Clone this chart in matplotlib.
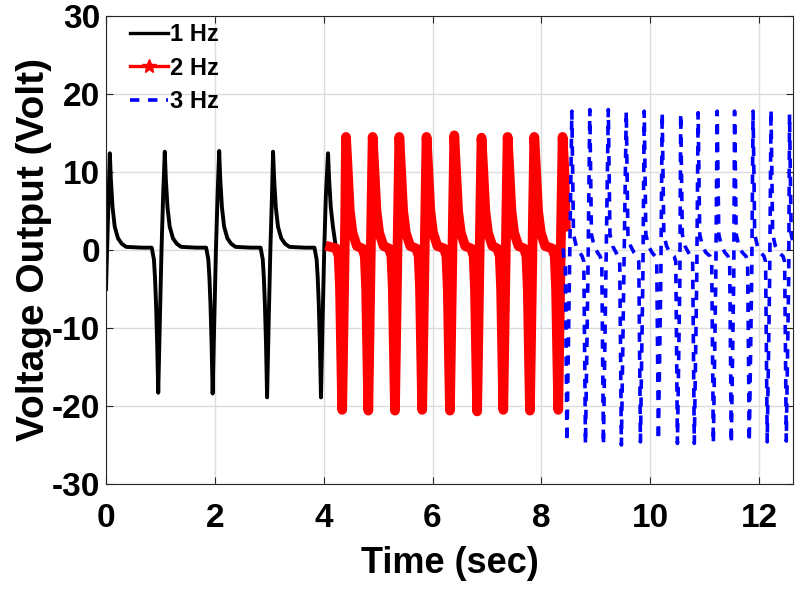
import matplotlib

matplotlib.use("Agg")
import matplotlib.pyplot as plt
from matplotlib.lines import Line2D

plt.rcParams["font.family"] = ["Liberation Sans", "DejaVu Sans"]
plt.rcParams["font.weight"] = "bold"
plt.rcParams["axes.unicode_minus"] = False

# --- 1 Hz (black): spike times / voltages ---
black_start = (0.0, -5.0)
black_trough_t = [0.96, 1.96, 2.96, 3.95]
black_trough_v = [-18.3, -18.4, -18.9, -18.9]
black_peak_t = [0.07, 1.08, 2.08, 3.07, 4.08]
black_peak_v = [12.4, 12.6, 12.7, 12.6, 12.4]
black_end = (4.21, 1.0)
# shape of one cycle around the spikes (offset in s, volt)
black_pre_dt = [-0.30, -0.12, -0.08, -0.06, -0.04, -0.02]
black_pre_v = [0.3, 0.3, -1.2, -3.5, -7.0, -12.0]
black_rise_dt = [0.03, 0.06, 0.09]
black_rise_v = [-9.0, 0.0, 7.0]
black_decay_dt = [0.02, 0.05, 0.09, 0.15, 0.22, 0.30]
black_decay_v = [9.0, 5.5, 3.0, 1.5, 0.8, 0.4]

# --- 2 Hz (red) ---
red_start = (4.12, 0.4)
red_trough_t = [4.34, 4.82, 5.31, 5.81, 6.32, 6.82, 7.30, 7.79, 8.31]
red_trough_v = [-20.5, -20.6, -20.6, -20.5, -20.6, -20.7, -20.5, -20.6, -20.5]
red_peak_t = [4.41, 4.90, 5.39, 5.89, 6.40, 6.90, 7.38, 7.87, 8.39]
red_peak_v = [14.5, 14.5, 14.5, 14.5, 14.7, 14.4, 14.5, 14.5, 14.5]
red_end = (8.45, 3.0)
red_pre_dt = [-0.11, -0.065, -0.04]
red_pre_v = [0.2, -0.8, -5.0]
red_rise_dt = [0.035, 0.055]
red_rise_v = [-5.0, 4.0]
red_decay_dt = [0.03, 0.07, 0.12, 0.20]
red_decay_v = [10.5, 5.0, 2.2, 0.5]

# --- 3 Hz (blue) ---
blue_start = (8.40, 0.2)
blue_trough_t = [8.47, 8.81, 9.14, 9.47, 9.82, 10.15, 10.50, 10.81, 11.16,
                 11.49, 11.82, 12.15, 12.50]
blue_trough_v = [-24.6, -24.9, -25.0, -25.0, -24.6, -24.4, -24.8, -24.8, -24.8,
                 -24.8, -24.6, -24.6, -24.5]
blue_peak_t = [8.56, 8.89, 9.23, 9.56, 9.89, 10.22, 10.56, 10.88, 11.23,
               11.55, 11.89, 12.22, 12.56]
blue_peak_v = [17.8, 18.0, 18.0, 17.8, 17.8, 17.6, 17.5, 17.6, 17.8,
               17.8, 17.8, 18.0, 17.4]
blue_end = (12.70, 0.0)
blue_pre_dt = [-0.06, -0.03]
blue_pre_v = [-0.8, -1.5]
blue_rise_dt = [0.045]
blue_rise_v = [-3.5]
blue_decay_dt = [0.03, 0.08, 0.14]
blue_decay_v = [2.0, 0.5, -0.3]


def trace(start, tr_t, tr_v, pk_t, pk_v, pre, rise, decay, end):
    pts = [start]
    for t, v in zip(tr_t, tr_v):
        pts += [(t + d, y) for d, y in zip(*pre)]
        pts.append((t, v))
        pts += [(t + d, y) for d, y in zip(*rise)]
    for t, v in zip(pk_t, pk_v):
        pts.append((t, v))
        pts += [(t + d, y) for d, y in zip(*decay)]
    pts = sorted(p for p in pts if start[0] <= p[0] < end[0]) + [end]
    return [p[0] for p in pts], [p[1] for p in pts]


bx, by = trace(black_start, black_trough_t, black_trough_v, black_peak_t, black_peak_v,
               (black_pre_dt, black_pre_v), (black_rise_dt, black_rise_v),
               (black_decay_dt, black_decay_v), black_end)
rx, ry = trace(red_start, red_trough_t, red_trough_v, red_peak_t, red_peak_v,
               (red_pre_dt, red_pre_v), (red_rise_dt, red_rise_v),
               (red_decay_dt, red_decay_v), red_end)
ux, uy = trace(blue_start, blue_trough_t, blue_trough_v, blue_peak_t, blue_peak_v,
               (blue_pre_dt, blue_pre_v), (blue_rise_dt, blue_rise_v),
               (blue_decay_dt, blue_decay_v), blue_end)

fig = plt.figure(figsize=(8, 5.9), dpi=100)
ax = fig.add_axes([0.1325, 0.1797, 0.8585, 0.7932])

dash = (0, (2.6, 2.4))
ax.plot(bx, by, color="black", lw=2.8)
ax.plot(rx, ry, color="red", lw=7)
ax.plot(ux, uy, color="blue", lw=2.6, linestyle=dash)

ax.set_xlim(0, 12.62)
ax.set_ylim(-30, 30)
ax.set_xticks(range(0, 13, 2))
ax.set_yticks(range(-30, 31, 10))
ax.grid(True, color="#dcdcdc", lw=1.0)
ax.set_axisbelow(True)
ax.tick_params(direction="in", length=5, width=0.8, top=True, right=True,
               labelsize=24, color="#262626")
ax.tick_params(axis="x", pad=14)
ax.tick_params(axis="y", pad=4)
for s in ax.spines.values():
    s.set_color("#262626")
    s.set_linewidth(0.8)

ax.set_xlabel("Time (sec)", fontsize=26, fontweight="bold", labelpad=8)
ax.set_ylabel("Voltage Output (Volt)", fontsize=28, fontweight="bold", labelpad=0)

handles = [
    Line2D([], [], color="black", lw=2.4),
    Line2D([], [], color="red", lw=2.4, marker="*", markersize=10),
    Line2D([], [], color="blue", lw=2.6, linestyle=dash),
]
ax.legend(handles, ["1 Hz", "2 Hz", "3 Hz"], loc="upper left", frameon=False,
          fontsize=17, handlelength=1.6, handletextpad=0.1, labelspacing=0.45,
          borderaxespad=0.0, bbox_to_anchor=(0.021, 1.005))

fig.savefig("out.png", dpi=100)
